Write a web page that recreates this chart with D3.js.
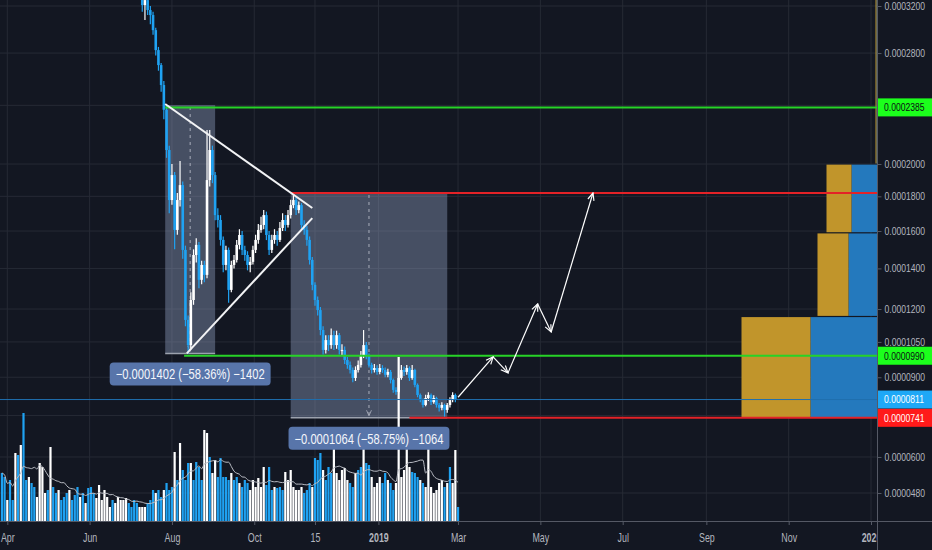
<!DOCTYPE html>
<html><head><meta charset="utf-8">
<script src="https://cdn.jsdelivr.net/npm/d3@7"></script>
<style>html,body{margin:0;padding:0;background:#131722;overflow:hidden}</style>
</head><body><svg id="c" width="932" height="550"></svg>
<script>
// ---------- DATA (prices in units of 1e-7) ----------
const UNIT = 1e-7;
const priceStart = "2018-07-08";   // 2-day candles
const firstOpen = 3480;
const closes = [3391,3208,3253,3164,3120,2990,2824,2704,2550,2368,
 2091,1778,1930,1606,1778,1868,1497,1149,1036,1243,
 1470,1524,1342,1418,1367,1899,2091,1930,1690,1662,
 1551,1418,1497,1292,1418,1444,1524,1578,1497,1470,
 1418,1434,1497,1551,1606,1634,1690,1578,1497,1551,
 1578,1551,1617,1662,1634,1690,1748,1778,1719,1748,
 1634,1606,1551,1444,1317,1243,1195,1103,1015,1058,
 1036,1080,1036,1080,1015,1015,972,951,930,897,
 930,951,993,1036,993,951,930,938,922,938,
 930,910,922,889,849,841,897,930,922,938,
 897,930,869,829,809,790,817,829,801,817,
 790,779,790,771,790,809,829,811];
const highs = [3560,3420,3300,3280,3200,3150,3010,2850,2720,2580,
 2402,2120,2000,1950,1820,2020,1890,1520,1170,1280,
 1500,1560,1540,1440,1440,2226,2226,2120,1950,1730,
 1690,1570,1520,1510,1440,1470,1550,1610,1600,1520,
 1490,1460,1520,1580,1640,1680,1720,1710,1600,1580,
 1610,1600,1650,1700,1690,1720,1780,1820,1800,1770,
 1760,1660,1630,1570,1460,1330,1260,1210,1120,1080,
 1080,1110,1100,1100,1090,1040,1030,985,965,940,
 945,970,1010,1103,1050,1000,960,955,950,955,
 950,940,935,930,895,860,910,951,945,951,
 945,951,935,875,835,815,830,840,835,828,
 822,798,800,795,798,820,840,835];
const lows = [3330,3150,3076,3120,3040,2950,2780,2660,2500,2300,
 2040,1700,1750,1500,1580,1740,1450,1120,1000,1020,
 1220,1430,1300,1320,1330,1350,1860,1880,1660,1620,
 1520,1380,1390,1230,1280,1400,1430,1500,1470,1440,
 1390,1380,1420,1480,1530,1590,1610,1550,1470,1480,
 1530,1520,1540,1600,1600,1620,1670,1730,1690,1700,
 1600,1580,1520,1420,1290,1215,1170,1080,995,1000,
 1010,1020,1015,1020,995,990,955,935,915,880,
 885,920,940,980,975,940,915,920,910,912,
 918,900,900,875,838,830,835,890,905,910,
 885,890,860,820,800,780,785,805,790,795,
 780,765,770,745,760,780,800,800];

const volStart = "2018-03-28";     // 2-day volume bars
const volumes = [48,44,21,41,21,68,66,76,108,41,
 44,38,34,24,58,54,28,31,74,34,
 28,31,21,24,28,31,21,26,34,24,
 28,18,33,34,28,23,36,21,31,24,
 14,21,18,24,21,21,23,18,14,21,
 18,14,14,14,18,21,31,28,31,24,
 31,38,31,34,69,41,78,51,41,58,
 58,41,59,54,41,91,88,64,48,61,
 44,63,44,44,41,48,41,44,38,34,
 41,38,31,41,34,43,34,54,36,54,
 31,34,33,34,31,49,41,51,34,31,
 31,34,28,31,38,34,63,61,68,51,
 41,54,48,74,48,41,51,53,41,38,
 34,48,51,54,81,58,56,44,34,38,
 44,38,48,41,38,31,38,164,44,51,
 76,54,49,48,44,41,38,34,79,34,
 28,31,38,41,34,38,54,38,71,14];
const volUp = [0,0,1,0,0,1,0,1,0,0,
 1,0,0,1,1,1,1,0,1,0,
 0,1,0,0,0,1,0,0,0,1,
 0,1,0,0,0,1,1,1,1,1,
 1,0,1,1,1,1,1,0,0,0,
 0,1,1,1,0,0,0,1,0,0,
 1,0,0,0,1,0,1,0,0,0,
 1,0,0,0,0,1,1,0,1,1,
 0,0,0,0,0,1,0,0,1,0,
 0,0,1,1,1,1,1,1,0,0,
 0,1,0,0,0,1,1,1,1,1,
 1,1,0,0,0,1,0,0,0,1,
 0,0,0,1,1,1,1,1,1,0,
 0,1,0,0,1,0,0,1,1,1,
 1,0,0,1,0,0,1,1,1,1,
 1,1,0,0,0,1,0,1,1,1,
 1,1,1,1,0,1,0,1,1,0];
const volMAPeriod = 10;

const xTickDates = ["2018-04-01","2018-06-01","2018-08-01","2018-10-01","2018-11-15","2019-01-01","2019-03-01","2019-05-01","2019-07-01","2019-09-01","2019-11-01","2020-01-01"];
const xTickLabels = ["Apr","Jun","Aug","Oct","15","2019","Mar","May","Jul","Sep","Nov","2020"];
const xBold = ["2019","2020"];
const yTicks = [3200,2800,2400,2000,1800,1600,1400,1200,1050,900,750,600,480];

// horizontal levels
const levelPrice = [2385, 1820, 990, 741];
const levelFrom  = ["2018-07-27","2018-10-28","2018-08-10","2019-01-24"];
const levelKind  = ["g","r","g","r"];
const lastPrice = 811;

// axis price labels
const tagPrice = [2385, 990, 811, 741];
const tagKind  = ["g","g","b","r"];

// date & price range boxes
const boxStart = ["2018-07-27","2018-10-28"];
const boxEnd   = ["2018-09-02","2019-02-21"];
const boxTop   = [2402, 1820];
const boxBottom= [1000, 741];
const boxText  = ["\u22120.0001402 (\u221258.36%) \u22121402","\u22120.0001064 (\u221258.75%) \u22121064"];

// triangle trendlines
const trendFrom = [["2018-07-27",2410],["2018-08-12",1000]];
const trendTo   = [["2018-11-13",1731],["2018-11-13",1673]];

// projected path
const pathDates  = ["2019-03-01","2019-03-27","2019-04-07","2019-04-29","2019-05-09","2019-06-09"];
const pathPrices = [820, 985, 918, 1224, 1094, 1820];

// visible-range volume profile rows
const vpLow  = [741, 1165, 1590, 2000];
const vpHigh = [1165, 1590, 2000, 3400];
const vpUpVol   = [69, 31, 25, 1];
const vpDownVol = [67, 29, 26, 1];

// ---------- SETUP ----------
const W = 932, H = 550, PR = 877.5, AXY = 521;
const BG = "#131722", GRID = "#262a35", TXT = "#b2b5be";
const BLUE = "#1fa2f2", WHITE = "#ffffff";
const GREEN = "#27d327", RED = "#e32227";
const parse = d3.timeParse("%Y-%m-%d");
const OFF = 1044;
const FONT = "'Liberation Sans', Arial, sans-serif";

const x = d3.scaleTime().domain([parse("2018-04-01"), parse("2020-01-01")]).range([7.3, 871]);
const yS = d3.scaleLog().domain([480 + OFF, 3200 + OFF]).range([493, 6]);
const Y = p => yS(p + OFF);
const vY = d3.scaleLinear().domain([0, 110]).range([AXY, AXY - 110]);
const vpW = d3.scaleLinear().domain([0, 140]).range([0, 140]);

const svg = d3.select("#c");
svg.append("rect").attr("width", W).attr("height", H).attr("fill", BG);
const defs = svg.append("defs");
defs.append("clipPath").attr("id", "clip").append("rect").attr("width", PR).attr("height", AXY);
defs.append("marker").attr("id", "ah").attr("viewBox", "0 0 10 10").attr("refX", 9).attr("refY", 5)
  .attr("markerWidth", 9).attr("markerHeight", 9).attr("markerUnits", "userSpaceOnUse").attr("orient", "auto")
  .append("path").attr("d", "M1,1.5 L9,5 L1,8.5").attr("fill", "none").attr("stroke", "#fff").attr("stroke-width", 1.3);
defs.append("marker").attr("id", "ahg").attr("viewBox", "0 0 10 10").attr("refX", 9).attr("refY", 5)
  .attr("markerWidth", 7).attr("markerHeight", 7).attr("markerUnits", "userSpaceOnUse").attr("orient", "auto")
  .append("path").attr("d", "M1,1.5 L9,5 L1,8.5").attr("fill", "none").attr("stroke", "#a9aebb").attr("stroke-width", 1.2);

// grid
const tickDates = xTickDates.map(parse);
svg.append("g").selectAll("line").data(tickDates).join("line")
  .attr("x1", d => x(d)).attr("x2", d => x(d)).attr("y1", 0).attr("y2", AXY)
  .attr("stroke", GRID).attr("stroke-width", 1);
svg.append("g").selectAll("line").data(yTicks).join("line")
  .attr("x1", 0).attr("x2", PR).attr("y1", d => Y(d)).attr("y2", d => Y(d))
  .attr("stroke", GRID).attr("stroke-width", 1);

const main = svg.append("g").attr("clip-path", "url(#clip)");

// volume profile
const vp = main.append("g");
vpLow.forEach((lo, i) => {
  const y0 = Y(vpHigh[i]) + 0.6, y1 = Y(lo) - 0.6;
  const wd = vpW(vpDownVol[i]), wu = vpW(vpUpVol[i]);
  vp.append("rect").attr("x", PR - wd).attr("y", y0).attr("width", wd).attr("height", y1 - y0).attr("fill", "#2479bd");
  vp.append("rect").attr("x", PR - wd - wu).attr("y", y0).attr("width", wu).attr("height", y1 - y0).attr("fill", "#c1952b");
});

// range boxes
const rb = main.append("g");
boxStart.forEach((s, i) => {
  const x0 = x(parse(s)), x1 = x(parse(boxEnd[i]));
  const y0 = Y(boxTop[i]), y1 = Y(boxBottom[i]);
  rb.append("rect").attr("x", x0).attr("y", y0).attr("width", x1 - x0).attr("height", y1 - y0)
    .attr("fill", "rgba(156,170,206,0.38)");
  rb.append("line").attr("x1", x0).attr("x2", x1).attr("y1", y1).attr("y2", y1)
    .attr("stroke", "#9ca2ae").attr("stroke-width", 1.5);
  const xm = (x0 + x1) / 2;
  rb.append("line").attr("x1", xm).attr("x2", xm).attr("y1", y0 + 2).attr("y2", y1 - 2)
    .attr("stroke", "#a9aebb").attr("stroke-width", 1).attr("stroke-dasharray", "3,4")
    .attr("marker-end", "url(#ahg)");
});

// volume bars
const volDates = volumes.map((v, i) => d3.timeDay.offset(parse(volStart), 2 * i));
main.append("g").selectAll("rect").data(volumes).join("rect")
  .attr("x", (d, i) => x(volDates[i]) - 1.1).attr("width", 2.2)
  .attr("y", d => vY(d)).attr("height", d => AXY - vY(d))
  .attr("fill", (d, i) => volUp[i] ? WHITE : BLUE);
// volume MA
const ma = volumes.map((v, i) => {
  const s = volumes.slice(Math.max(0, i - volMAPeriod + 1), i + 1);
  return d3.mean(s);
});
main.append("path").datum(ma)
  .attr("d", d3.line().x((d, i) => x(volDates[i])).y(d => vY(d)).curve(d3.curveMonotoneX))
  .attr("fill", "none").attr("stroke", "#b9bcc4").attr("stroke-width", 1);

// candles
const cDates = closes.map((c, i) => d3.timeDay.offset(parse(priceStart), 2 * i));
const opens = closes.map((c, i) => i === 0 ? firstOpen : closes[i - 1]);
const cg = main.append("g");
closes.forEach((c, i) => {
  const o = opens[i], col = c >= o ? WHITE : BLUE, cx = x(cDates[i]);
  cg.append("line").attr("x1", cx).attr("x2", cx).attr("y1", Y(highs[i])).attr("y2", Y(lows[i]))
    .attr("stroke", col).attr("stroke-width", 1.2);
  const yt = Y(Math.max(o, c)), yb = Y(Math.min(o, c));
  cg.append("rect").attr("x", cx - 1.3).attr("width", 2.6).attr("y", yt).attr("height", Math.max(1.2, yb - yt)).attr("fill", col);
});

// last price line
main.append("line").attr("x1", 0).attr("x2", PR).attr("y1", Y(lastPrice)).attr("y2", Y(lastPrice))
  .attr("stroke", "#1f6fae").attr("stroke-width", 1);

// horizontal levels
levelPrice.forEach((p, i) => {
  main.append("line").attr("x1", x(parse(levelFrom[i]))).attr("x2", PR)
    .attr("y1", Y(p)).attr("y2", Y(p))
    .attr("stroke", levelKind[i] === "g" ? GREEN : RED).attr("stroke-width", 2);
});

// triangle
trendFrom.forEach((a, i) => {
  const b = trendTo[i];
  main.append("line").attr("x1", x(parse(a[0]))).attr("y1", Y(a[1]))
    .attr("x2", x(parse(b[0]))).attr("y2", Y(b[1]))
    .attr("stroke", "#f2f3f5").attr("stroke-width", 2);
});

// projected path
for (let i = 1; i < pathDates.length; i++) {
  main.append("line")
    .attr("x1", x(parse(pathDates[i - 1]))).attr("y1", Y(pathPrices[i - 1]))
    .attr("x2", x(parse(pathDates[i]))).attr("y2", Y(pathPrices[i]))
    .attr("stroke", "#fff").attr("stroke-width", 1.2).attr("marker-end", "url(#ah)");
}

// range labels
boxStart.forEach((s, i) => {
  const x0 = x(parse(s)), x1 = x(parse(boxEnd[i]));
  const xm = (x0 + x1) / 2, yb = Y(boxBottom[i]);
  const g = main.append("g");
  const r = g.append("rect").attr("rx", 4).attr("fill", "#5875aa");
  const t = g.append("text").text(boxText[i]).attr("font-family", FONT).attr("font-size", 14)
    .attr("fill", "#f4f6fb").attr("text-anchor", "middle")
    .attr("transform", `translate(${xm},${yb + 26}) scale(0.8,1)`);
  const L = t.node().getComputedTextLength() * 0.8;
  r.attr("x", xm - L / 2 - 6).attr("y", yb + 9).attr("width", L + 12).attr("height", 23);
});

// x axis
svg.append("line").attr("x1", 0).attr("x2", W).attr("y1", AXY + 0.5).attr("y2", AXY + 0.5)
  .attr("stroke", "#555965").attr("stroke-width", 1);
const xa = svg.append("g").attr("transform", `translate(0,${AXY})`)
  .call(d3.axisBottom(x).tickValues(tickDates).tickFormat((d, i) => xTickLabels[i]).tickSize(4).tickPadding(8));
xa.select(".domain").remove();
xa.selectAll(".tick line").attr("stroke", "#555965");
xa.selectAll(".tick text").attr("fill", TXT).attr("font-family", FONT).attr("font-size", 12)
  .attr("font-weight", (d, i) => xBold.includes(xTickLabels[i]) ? "bold" : "normal")
  .attr("transform", "scale(0.74,1)");

// right price scale (tick labels hidden where a price tag covers them)
svg.append("rect").attr("x", PR).attr("y", AXY + 1).attr("width", W - PR).attr("height", H - AXY - 1).attr("fill", BG);
svg.append("line").attr("x1", PR).attr("x2", PR).attr("y1", 0).attr("y2", H).attr("stroke", "#555965").attr("stroke-width", 1);
const fmt = d3.format(".7f");
const shownTicks = yTicks.filter(t => !tagPrice.some(p => Math.abs(Y(p) - Y(t)) < 9));
const ya = svg.append("g").attr("transform", `translate(${PR},0)`)
  .call(d3.axisRight(yS).tickValues(shownTicks.map(t => t + OFF)).tickFormat(v => fmt((v - OFF) * UNIT)).tickSize(4).tickPadding(0));
ya.select(".domain").remove();
ya.selectAll(".tick line").attr("stroke", "#555965");
ya.selectAll(".tick text").attr("fill", TXT).attr("font-family", FONT).attr("font-size", 11)
  .attr("x", 0).attr("transform", "translate(7,0) scale(0.78,1)");

// price tags
const tagBg = { g: "#1cff1c", b: "#1ea8f7", r: "#ff1a1a" };
const tagFg = { g: "#0b0e14", b: "#ffffff", r: "#ffffff" };
tagPrice.forEach((p, i) => {
  const yc = Y(p);
  svg.append("rect").attr("x", PR + 0.5).attr("y", yc - 9).attr("width", W - PR).attr("height", 18)
    .attr("fill", tagBg[tagKind[i]]);
  svg.append("text").text(fmt(p * UNIT)).attr("font-family", FONT).attr("font-size", 11)
    .attr("fill", tagFg[tagKind[i]]).attr("dy", "0.35em")
    .attr("transform", `translate(884,${yc}) scale(0.78,1)`);
});
</script></body></html>
